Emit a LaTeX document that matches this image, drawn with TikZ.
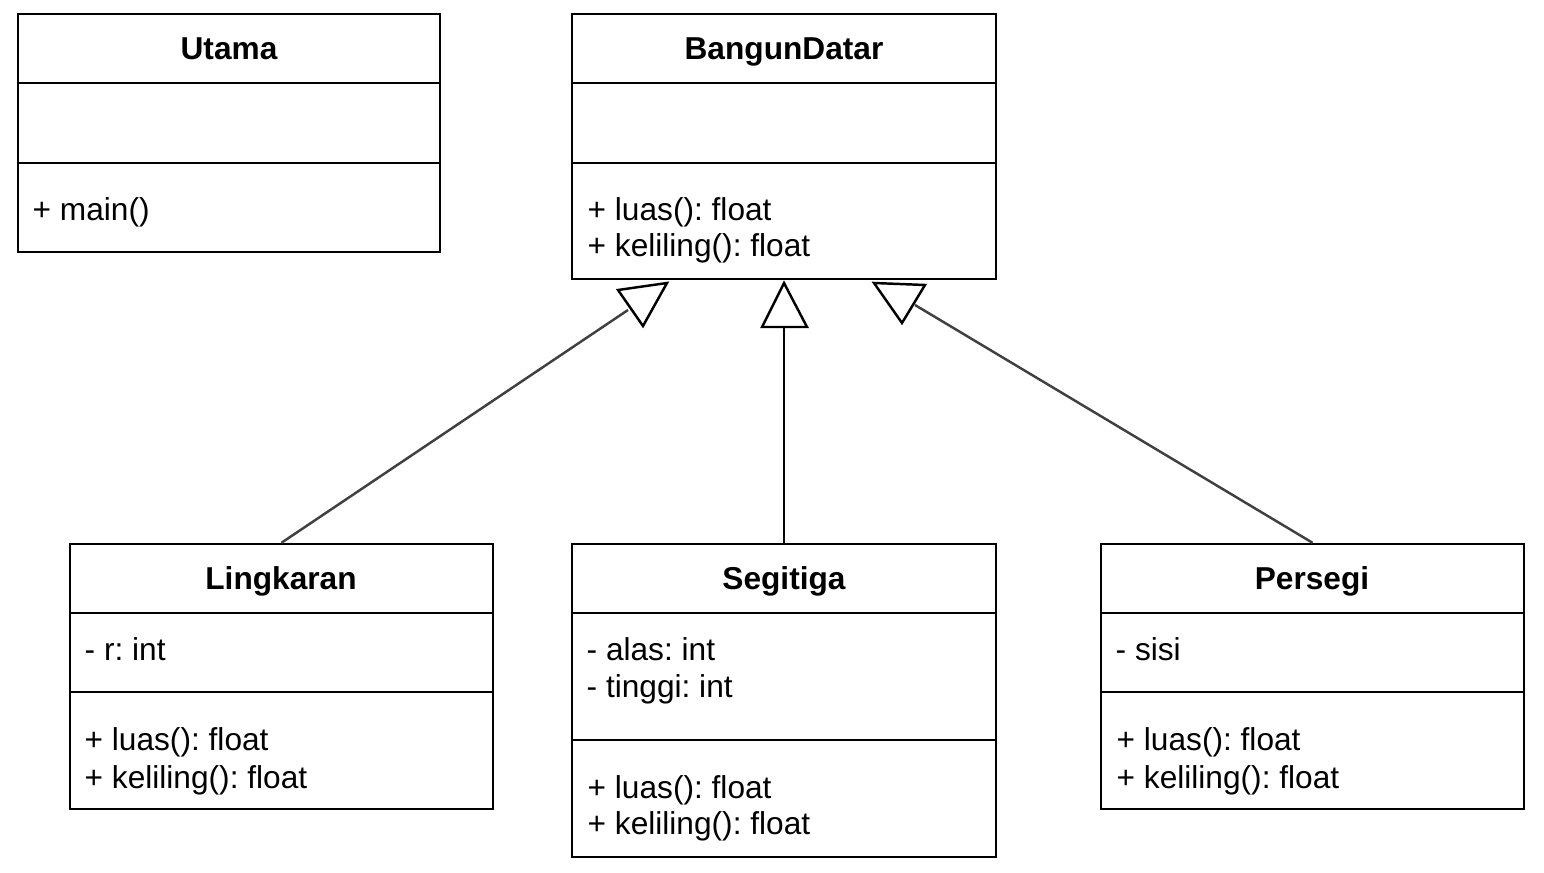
\documentclass[tikz,border=0pt]{standalone}
\usepackage{fontspec}
\setmainfont{Liberation Sans}
\usetikzlibrary{fit}
\frenchspacing
\begin{document}
\begin{tikzpicture}[x=0.01cm,y=-0.01cm,
  classbox/.style={draw=black,line width=0.7pt,inner sep=0pt,fill=white},
  sepline/.style={draw=black,line width=0.7pt},
  title/.style={anchor=base,inner sep=0pt,font=\fontsize{9}{10.8}\selectfont\bfseries},
  member/.style={anchor=base west,inner sep=0pt,font=\fontsize{9}{10.8}\selectfont},
  conn/.style={draw=black!75,line width=0.7pt},
  vconn/.style={draw=black,line width=0.7pt},
  tri/.style={draw=black,line width=0.7pt,fill=white,line join=miter}]
\useasboundingbox (0,0) rectangle (1544,873);

% Utama
\node[classbox,fit={(18,14) (440,252)}] (utama) {};
\draw[sepline] (18,83) -- (440,83);
\draw[sepline] (18,163) -- (440,163);
\node[title] (utamat) at (229,60) {Utama};
\node[member] (utamam) at (32,221) {+ main()};

% BangunDatar
\node[classbox,fit={(572,14) (996,279)}] (bd) {};
\draw[sepline] (572,83) -- (996,83);
\draw[sepline] (572,163) -- (996,163);
\node[title] (bdt) at (784,60) {BangunDatar};
\node[member] (bdm1) at (587,221) {+ luas(): float};
\node[member] (bdm2) at (587,257) {+ keliling(): float};

% Lingkaran
\node[classbox,fit={(70,544) (493,809)}] (ling) {};
\draw[sepline] (70,613) -- (493,613);
\draw[sepline] (70,692) -- (493,692);
\node[title] (lingt) at (281,590) {Lingkaran};
\node[member] (linga) at (84,661) {- r: int};
\node[member] (lingm1) at (84,751) {+ luas(): float};
\node[member] (lingm2) at (84,788) {+ keliling(): float};

% Segitiga
\node[classbox,fit={(572,544) (996,857)}] (seg) {};
\draw[sepline] (572,613) -- (996,613);
\draw[sepline] (572,740) -- (996,740);
\node[title] (segt) at (784,590) {Segitiga};
\node[member] (sega1) at (586,661) {- alas: int};
\node[member] (sega2) at (586,698) {- tinggi: int};
\node[member] (segm1) at (587,798) {+ luas(): float};
\node[member] (segm2) at (587,835) {+ keliling(): float};

% Persegi
\node[classbox,fit={(1101,544) (1524,809)}] (per) {};
\draw[sepline] (1101,613) -- (1524,613);
\draw[sepline] (1101,692) -- (1524,692);
\node[title] (pert) at (1312,590) {Persegi};
\node[member] (pera) at (1115,661) {- sisi};
\node[member] (perm1) at (1116,751) {+ luas(): float};
\node[member] (perm2) at (1116,788) {+ keliling(): float};

% generalization connectors
\coordinate (lend) at (628,310);
\coordinate (mend) at (784,327);
\coordinate (rend) at (915,305);
\draw[conn] (ling.north) -- (lend);
\draw[vconn] (seg.north) -- (mend);
\draw[conn] (per.north) -- (rend);
\draw[tri] (618,290) -- (667,283) -- (643,326) -- cycle;
\draw[tri] (784,283) -- (762,327) -- (807,327) -- cycle;
\draw[tri] (874,283) -- (925,285) -- (902,323) -- cycle;
\end{tikzpicture}
\end{document}
